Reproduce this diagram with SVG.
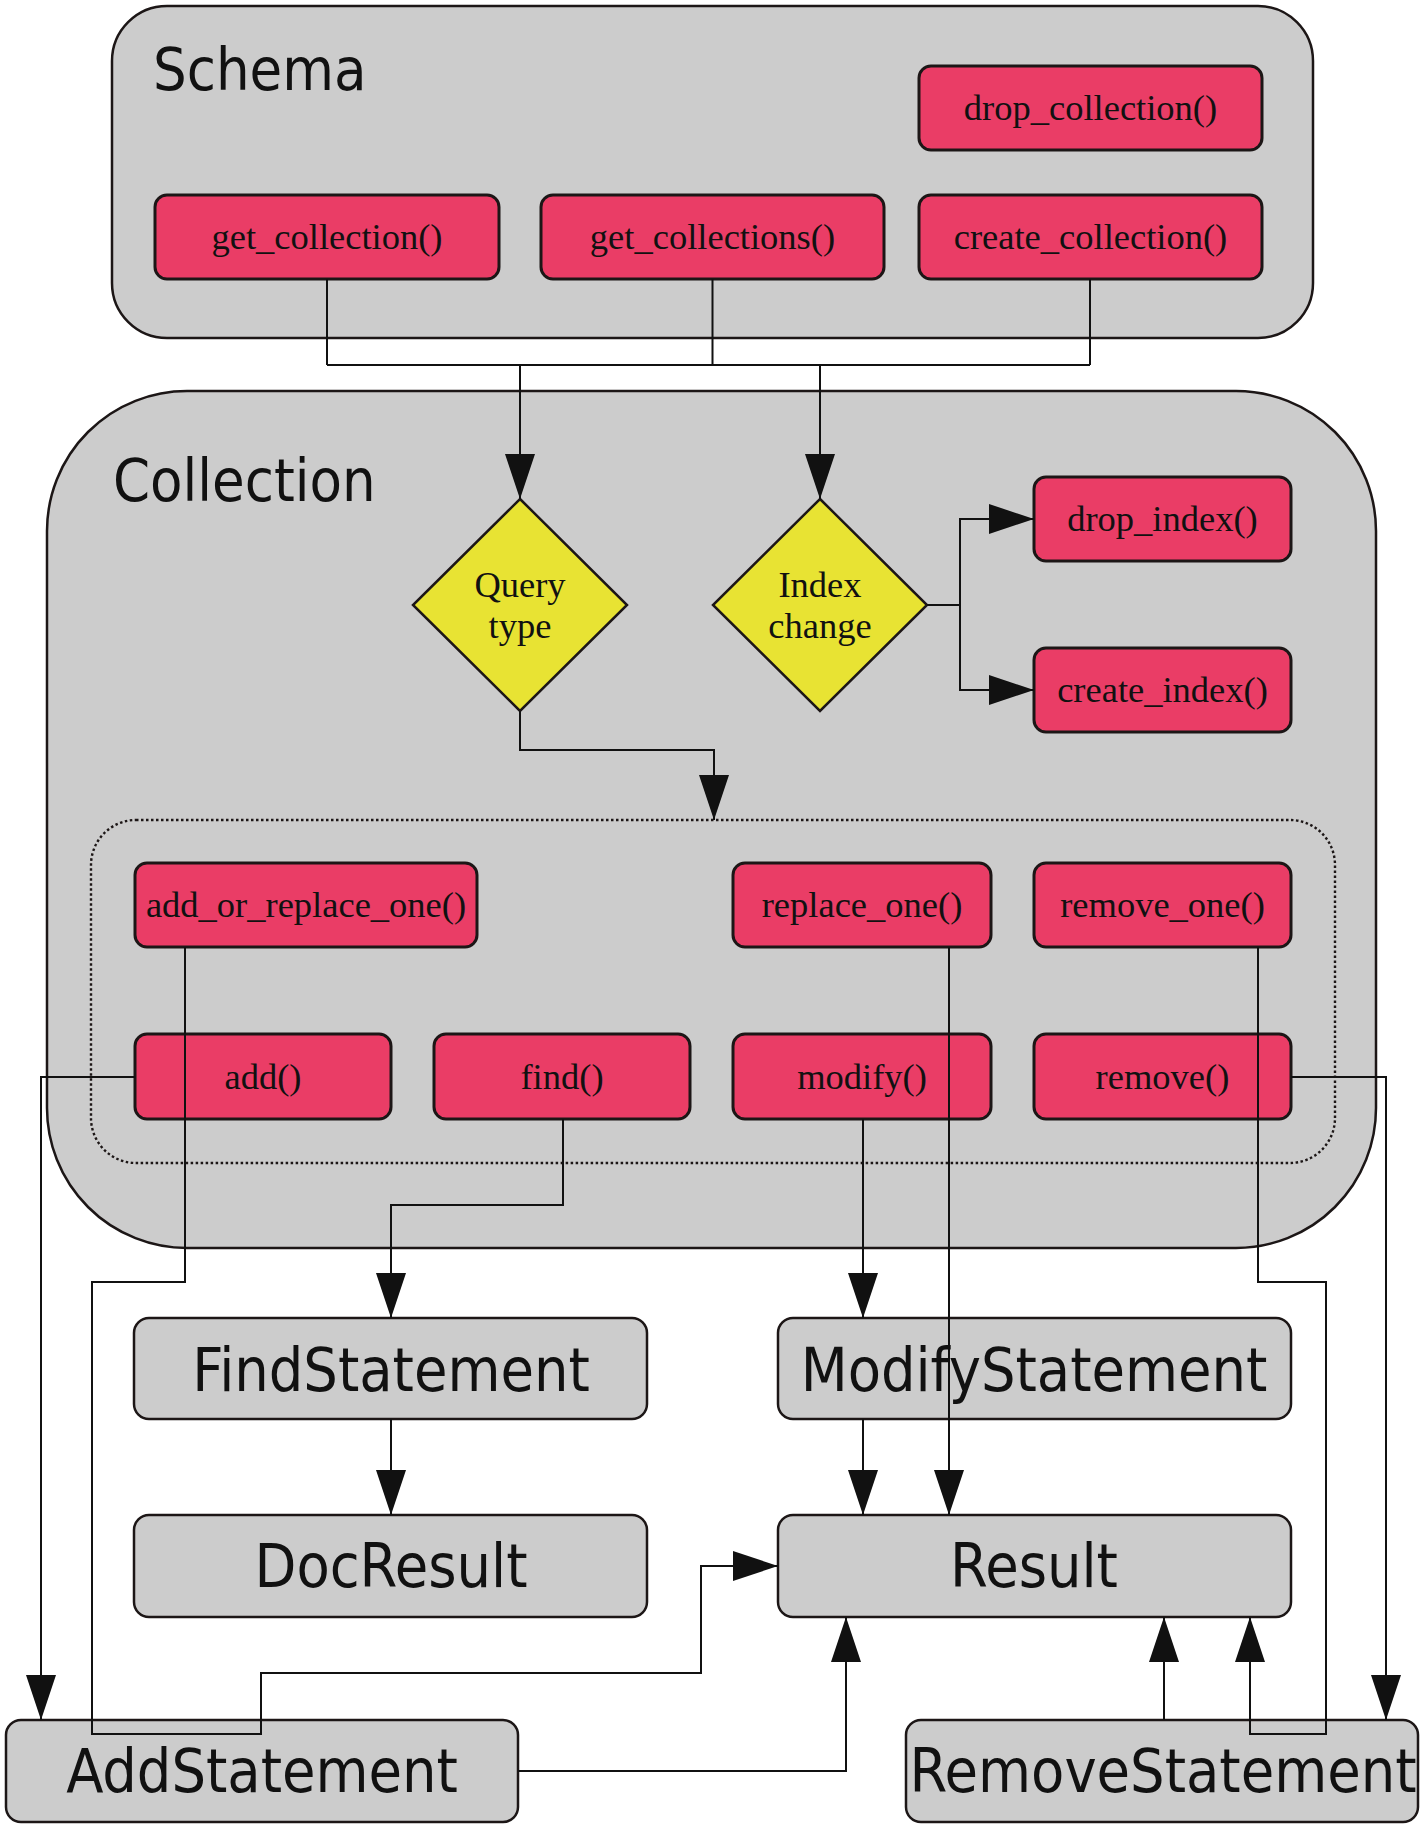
<svg xmlns="http://www.w3.org/2000/svg" width="1425" height="1828" viewBox="0 0 1425 1828">
<style>
.cont{fill:#cccccc;stroke:#1c1616;stroke-width:2.5}
.fn{fill:#ea3d66;stroke:#1c1616;stroke-width:3}
.cls{fill:#cccccc;stroke:#1c1616;stroke-width:2.5}
.dia{fill:#e8e333;stroke:#1c1616;stroke-width:2.5}
.dot{fill:none;stroke:#1c1616;stroke-width:2.4;stroke-dasharray:2.5 2.5}
.ft{font-family:"Liberation Serif","Times New Roman",serif;font-size:36.5px;fill:#111;text-anchor:middle}
.big{font-family:"DejaVu Sans Condensed","DejaVu Sans",sans-serif;font-stretch:condensed;font-size:59px;fill:#111}
.bb{font-size:60.5px}
.mid{text-anchor:middle}
.c{fill:none;stroke:#111;stroke-width:2}
.ca{fill:none;stroke:#111;stroke-width:2;marker-end:url(#ah)}
</style>
<defs>
<marker id="ah" markerUnits="userSpaceOnUse" markerWidth="46" markerHeight="31" refX="45" refY="15" orient="auto">
<path d="M0,0 L45,15 L0,30 z" fill="#111"/>
</marker>
</defs>
<rect width="1425" height="1828" fill="#ffffff"/>

<g id="schema">
<rect class="cont" x="112" y="6" width="1201" height="332" rx="55" ry="55"/>
<text class="big" x="153" y="90">Schema</text>
</g>
<g id="drop_collection"><rect class="fn" x="919" y="66" width="343" height="84" rx="12"/><text class="ft" x="1090.5" y="120">drop_collection()</text></g>
<g id="get_collection"><rect class="fn" x="155" y="195" width="344" height="84" rx="12"/><text class="ft" x="327" y="249">get_collection()</text></g>
<g id="get_collections"><rect class="fn" x="541" y="195" width="343" height="84" rx="12"/><text class="ft" x="712.5" y="249">get_collections()</text></g>
<g id="create_collection"><rect class="fn" x="919" y="195" width="343" height="84" rx="12"/><text class="ft" x="1090.5" y="249">create_collection()</text></g>

<g id="collection">
<rect class="cont" x="47" y="391" width="1329" height="857" rx="140" ry="140"/>
<text class="big" x="113" y="501">Collection</text>
<rect class="dot" x="91" y="820" width="1244" height="343" rx="45"/>
</g>
<g id="query_type"><polygon class="dia" points="520,499 627,605 520,711 413,605"/><text class="ft" x="520" y="597">Query</text><text class="ft" x="520" y="638">type</text></g>
<g id="index_change"><polygon class="dia" points="820,499 927,605 820,711 713,605"/><text class="ft" x="820" y="597">Index</text><text class="ft" x="820" y="638">change</text></g>
<g id="drop_index"><rect class="fn" x="1034" y="477" width="257" height="84" rx="12"/><text class="ft" x="1162.5" y="531">drop_index()</text></g>
<g id="create_index"><rect class="fn" x="1034" y="648" width="257" height="84" rx="12"/><text class="ft" x="1162.5" y="702">create_index()</text></g>

<g id="add_or_replace_one"><rect class="fn" x="135" y="863" width="342" height="84" rx="12"/><text class="ft" x="306" y="917">add_or_replace_one()</text></g>
<g id="replace_one"><rect class="fn" x="733" y="863" width="258" height="84" rx="12"/><text class="ft" x="862" y="917">replace_one()</text></g>
<g id="remove_one"><rect class="fn" x="1034" y="863" width="257" height="84" rx="12"/><text class="ft" x="1162.5" y="917">remove_one()</text></g>
<g id="add"><rect class="fn" x="135" y="1034" width="256" height="85" rx="12"/><text class="ft" x="263" y="1089">add()</text></g>
<g id="find"><rect class="fn" x="434" y="1034" width="256" height="85" rx="12"/><text class="ft" x="562" y="1089">find()</text></g>
<g id="modify"><rect class="fn" x="733" y="1034" width="258" height="85" rx="12"/><text class="ft" x="862" y="1089">modify()</text></g>
<g id="remove"><rect class="fn" x="1034" y="1034" width="257" height="85" rx="12"/><text class="ft" x="1162.5" y="1089">remove()</text></g>

<g id="FindStatement"><rect class="cls" x="134" y="1318" width="513" height="101" rx="15"/><text class="big bb mid" x="391" y="1391">FindStatement</text></g>
<g id="ModifyStatement"><rect class="cls" x="778" y="1318" width="513" height="101" rx="15"/><text class="big bb mid" x="1034" y="1391">ModifyStatement</text></g>
<g id="DocResult"><rect class="cls" x="134" y="1515" width="513" height="102" rx="15"/><text class="big bb mid" x="391" y="1587">DocResult</text></g>
<g id="Result"><rect class="cls" x="778" y="1515" width="513" height="102" rx="15"/><text class="big bb mid" x="1034" y="1587">Result</text></g>
<g id="AddStatement"><rect class="cls" x="6" y="1720" width="512" height="102" rx="15"/><text class="big bb mid" x="262" y="1792">AddStatement</text></g>
<g id="RemoveStatement"><rect class="cls" x="906" y="1720" width="512" height="102" rx="15"/><text class="big bb mid" x="1163" y="1792">RemoveStatement</text></g>

<g id="connectors">
<path class="c" d="M327,279 V365 M712.5,279 V365 M1090,279 V365 M327,365 H1090"/>
<path class="ca" d="M520,365 V499"/>
<path class="ca" d="M820,365 V499"/>
<path class="c" d="M927,605 H960" stroke-width="3"/>
<path class="ca" d="M960,605 V519 H1034"/>
<path class="ca" d="M960,605 V690 H1034"/>
<path class="ca" d="M520,711 V750 H714 V820"/>
<path class="ca" d="M135,1077 H41 V1720"/>
<path class="ca" d="M185,947 V1282 H92 V1734 H261 V1673 H701 V1566 H778"/>
<path class="ca" d="M563,1119 V1205 H391 V1318"/>
<path class="ca" d="M391,1419 V1515"/>
<path class="ca" d="M863,1119 V1318"/>
<path class="ca" d="M863,1419 V1515"/>
<path class="ca" d="M949,947 V1515"/>
<path class="ca" d="M518,1771 H846 V1617"/>
<path class="ca" d="M1291,1077 H1386 V1720"/>
<path class="ca" d="M1258,947 V1282 H1326 V1734 H1250 V1617"/>
<path class="ca" d="M1164,1720 V1617"/>
</g>
</svg>
